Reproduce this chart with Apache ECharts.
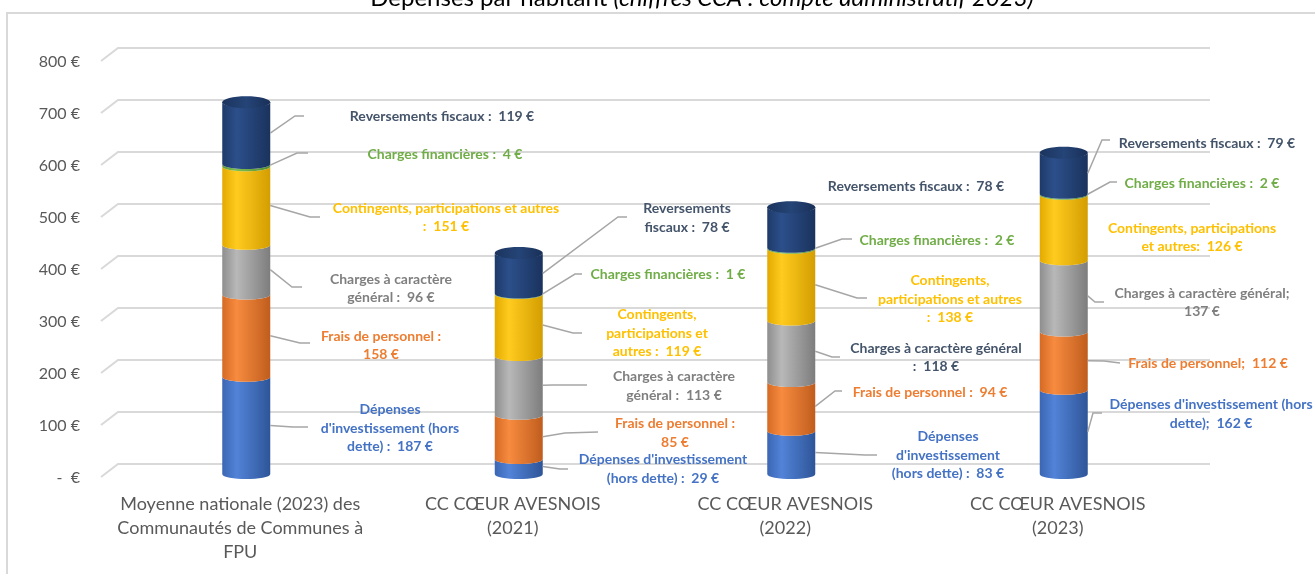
<!DOCTYPE html>
<html>
<head>
<meta charset="utf-8">
<script src="https://cdn.jsdelivr.net/npm/echarts@6/dist/echarts.min.js"></script>
<style>
  html, body { margin: 0; padding: 0; background: #fff; }
  #main { width: 1315px; height: 574px; }
</style>
</head>
<body>
<div id="main"></div>
<script>
// données (€ par habitant), de bas en haut de la pile
var categories = [
  "Moyenne nationale (2023) des\nCommunautés de Communes à\nFPU",
  "CC CŒUR AVESNOIS\n(2021)",
  "CC CŒUR AVESNOIS\n(2022)",
  "CC CŒUR AVESNOIS\n(2023)"
];
var layerNames = [
  "Dépenses d'investissement (hors dette)",
  "Frais de personnel",
  "Charges à caractère général",
  "Contingents, participations et autres",
  "Charges financières",
  "Reversements fiscaux"
];
var investissement = [187, 29, 83, 162];
var personnel = [158, 85, 94, 112];
var caractereGeneral = [96, 113, 118, 137];
var contingents = [151, 119, 138, 126];
var financieres = [4, 1, 2, 2];
var reversements = [119, 78, 78, 79];
var yTicks = [0, 100, 200, 300, 400, 500, 600, 700, 800];

var layers = [investissement, personnel, caractereGeneral, contingents, financieres, reversements];

// couleurs des cylindres : [bord gauche, reflet, bord droit]
var shades = [
  ["#3b66b3", "#5283d8", "#2e5598"],
  ["#d56a25", "#f78b3f", "#c05d1d"],
  ["#8e8e8e", "#b8b8b8", "#7d7d7d"],
  ["#e3aa00", "#ffcb1f", "#d39e00"],
  ["#5f9a3a", "#7cbf50", "#558b33"],
  ["#1e3a69", "#2c4f8b", "#1a335d"]
];
var labelColors = ["#4472C4", "#ED7D31", "#7F7F7F", "#FFC000", "#70AD47", "#44546A"];

// étiquettes : texte, centre du bloc, coude et fin du trait de rappel
var labelLayout = [
  [
    {t: "Dépenses\nd'investissement (hors\ndette) :  {v} €", x: 390, y: 428, l: [[293, 427], [308, 427]]},
    {t: "Dépenses d'investissement\n(hors dette) :  {v} €", x: 663, y: 469, l: [[560, 469], [568, 469]]},
    {t: "Dépenses\nd'investissement\n(hors dette) :  {v} €", x: 948, y: 455, l: [[865, 455], [877, 455]]},
    {t: "Dépenses d'investissement (hors\ndette);  {v} €", x: 1211, y: 414, l: [[1093, 413], [1102, 413]]}
  ],
  [
    {t: "Frais de personnel :\n{v} €", x: 381, y: 345.5, l: [[300, 343], [310, 343]]},
    {t: "Frais de personnel :\n{v} €", x: 675, y: 433, l: [[565, 433], [598, 432]]},
    {t: "Frais de personnel :  {v} €", x: 930, y: 392, l: [[835, 391], [842, 391]]},
    {t: "Frais de personnel;  {v} €", x: 1208, y: 363, l: [[1104, 361], [1120, 363]]}
  ],
  [
    {t: "Charges à caractère\ngénéral :  {v} €", x: 391, y: 288.5, l: [[292, 287], [302, 287]]},
    {t: "Charges à caractère\ngénéral :  {v} €", x: 674, y: 386, l: [[553, 385], [587, 385]]},
    {t: "Charges à caractère général\n:  {v} €", x: 936, y: 357.5, l: [[832, 357], [840, 357]], c: "#44546A"},
    {t: "Charges à caractère général;\n{v} €", x: 1202, y: 302.5, l: [[1095, 302], [1104, 302]]}
  ],
  [
    {t: "Contingents, participations et autres\n:  {v} €", x: 446, y: 217.5, l: [[310, 217], [320, 217]]},
    {t: "Contingents,\nparticipations et\nautres :  {v} €", x: 657, y: 333, l: [[573, 333], [582, 333]]},
    {t: "Contingents,\nparticipations et autres\n:  {v} €", x: 950, y: 299, l: [[857, 298], [867, 298]]},
    {t: "Contingents, participations\net autres:  {v} €", x: 1192, y: 237.5, l: null}
  ],
  [
    {t: "Charges financières :  {v} €", x: 445, y: 154, l: [[297, 153], [308, 153]]},
    {t: "Charges financières :  {v} €", x: 668, y: 274, l: [[575, 274], [582, 274]]},
    {t: "Charges financières :  {v} €", x: 937, y: 240, l: [[842, 239], [852, 239]]},
    {t: "Charges financières :  {v} €", x: 1202, y: 183, l: [[1110, 182], [1117, 182]]}
  ],
  [
    {t: "Reversements fiscaux :  {v} €", x: 442, y: 116.5, l: [[295, 116], [304, 116]]},
    {t: "Reversements\nfiscaux :  {v} €", x: 687, y: 218, l: [[618, 217], [627, 217]]},
    {t: "Reversements fiscaux :  {v} €", x: 916, y: 186, l: null},
    {t: "Reversements fiscaux :  {v} €", x: 1207, y: 143, l: [[1102, 140], [1110, 140]]}
  ]
];

var BAR_R = 24;   // demi-largeur du cylindre
var ELL = 5;      // demi-hauteur de l'ellipse
var DX = 6, DY = -4; // décalage 3D des cylindres

function lowerArc(cx, y, r, dir) {
  // demi-ellipse basse, dir=1 gauche->droite, dir=-1 droite->gauche
  var k = ELL * 4 / 3;
  if (dir > 0) {
    return "C" + (cx - r) + "," + (y + k) + " " + (cx + r) + "," + (y + k) + " " + (cx + r) + "," + y;
  }
  return "C" + (cx + r) + "," + (y + k) + " " + (cx - r) + "," + (y + k) + " " + (cx - r) + "," + y;
}

function cylGradient(s) {
  return new echarts.graphic.LinearGradient(0, 0, 1, 0, [
    {offset: 0, color: s[0]},
    {offset: 0.3, color: s[1]},
    {offset: 1, color: s[2]}
  ]);
}

var totals = categories.map(function (c, i) {
  var s = 0;
  layers.forEach(function (arr) { s += arr[i]; });
  return s;
});

var series = [];

// lignes de quadrillage en perspective
series.push({
  type: "custom",
  silent: true,
  z: 1,
  data: yTicks.map(function (v) { return [0, v]; }),
  renderItem: function (params, api) {
    var y = api.coord([0, api.value(1)])[1];
    return {
      type: "polyline",
      shape: {points: [[101, y - 1], [118, y - 14], [1210, y - 14]]},
      style: {stroke: "#d9d9d9", lineWidth: 2, fill: null}
    };
  }
});

// segments des cylindres
layers.forEach(function (arr, li) {
  var data = arr.map(function (v, ci) {
    var base = 0;
    for (var k = 0; k < li; k++) base += layers[k][ci];
    return [ci, base, base + v];
  });
  series.push({
    type: "custom",
    name: layerNames[li],
    z: 3,
    data: data,
    renderItem: function (params, api) {
      var cx = api.coord([api.value(0), 0])[0] + DX;
      var yb = api.coord([api.value(0), api.value(1)])[1] + DY;
      var yt = api.coord([api.value(0), api.value(2)])[1] + DY;
      var r = BAR_R;
      var d = "M" + (cx - r) + "," + yt + lowerArc(cx, yt, r, 1) +
        "L" + (cx + r) + "," + yb + lowerArc(cx, yb, r, -1) + "Z";
      return {
        type: "path",
        shape: {pathData: d},
        style: {fill: cylGradient(shades[li])}
      };
    }
  });
});

// couvercle du cylindre
series.push({
  type: "custom",
  z: 4,
  silent: true,
  data: totals.map(function (t, i) { return [i, t]; }),
  renderItem: function (params, api) {
    var cx = api.coord([api.value(0), 0])[0] + DX;
    var yt = api.coord([api.value(0), api.value(1)])[1] + DY;
    return {
      type: "ellipse",
      shape: {cx: cx, cy: yt, rx: BAR_R, ry: ELL + 1},
      style: {
        fill: new echarts.graphic.LinearGradient(0, 0, 1, 0, [
          {offset: 0, color: "#1b345e"},
          {offset: 0.5, color: "#254477"},
          {offset: 1, color: "#193058"}
        ])
      }
    };
  }
});

// étiquettes et traits de rappel
layers.forEach(function (arr, li) {
  var data = arr.map(function (v, ci) {
    var base = 0;
    for (var k = 0; k < li; k++) base += layers[k][ci];
    return [ci, base + v / 2, v];
  });
  series.push({
    type: "custom",
    z: 5,
    silent: true,
    data: data,
    renderItem: function (params, api) {
      var ci = api.value(0);
      var lay = labelLayout[li][ci];
      var p = api.coord([ci, api.value(1)]);
      var sx = p[0] + DX + BAR_R, sy = p[1] + DY;
      var children = [];
      if (lay.l) {
        children.push({
          type: "polyline",
          shape: {points: [[sx, sy]].concat(lay.l)},
          style: {stroke: "#a6a6a6", lineWidth: 1.5, fill: null}
        });
      }
      children.push({
        type: "text",
        style: {
          text: lay.t.replace("{v}", api.value(2)),
          x: lay.x, y: lay.y,
          align: "center", verticalAlign: "middle",
          fill: lay.c || labelColors[li],
          font: "bold 14px Lato",
          lineHeight: 18.5
        }
      });
      return {type: "group", children: children};
    }
  });
});

var option = {
  animation: false,
  grid: {left: 104, right: 121, top: 62, bottom: 96, containLabel: false},
  xAxis: {
    type: "category",
    data: categories,
    axisLine: {show: false},
    axisTick: {show: false},
    axisLabel: {
      color: "#595959",
      fontSize: 18,
      fontFamily: "Lato",
      lineHeight: 24,
      margin: 14,
      interval: 0
    }
  },
  yAxis: {
    type: "value",
    min: 0,
    max: 800,
    interval: 100,
    splitLine: {show: false},
    axisLine: {show: false},
    axisTick: {show: false},
    axisLabel: {
      color: "#595959",
      fontSize: 16,
      fontFamily: "Lato",
      margin: 24,
      formatter: function (v) { return v === 0 ? "-  €" : v + " €"; }
    }
  },
  graphic: [
    {
      type: "rect",
      silent: true,
      shape: {x: 7, y: 13, width: 1330, height: 580},
      style: {fill: null, stroke: "#d9d9d9", lineWidth: 2}
    },
    {
      type: "text",
      silent: true,
      style: {
        text: "Dépenses par habitant {i|(chiffres CCA : compte administratif 2023)}",
        x: 702, y: -2,
        align: "center", verticalAlign: "middle",
        fill: "#000",
        font: "24px Lato",
        rich: {i: {fontStyle: "italic", fontSize: 24, fontFamily: "Lato", fill: "#000"}}
      }
    }
  ],
  series: series
};

var myChart = echarts.init(document.getElementById("main"));
myChart.setOption(option);
window.addEventListener("resize", function () {
  myChart.resize();
});
</script>
</body>
</html>
